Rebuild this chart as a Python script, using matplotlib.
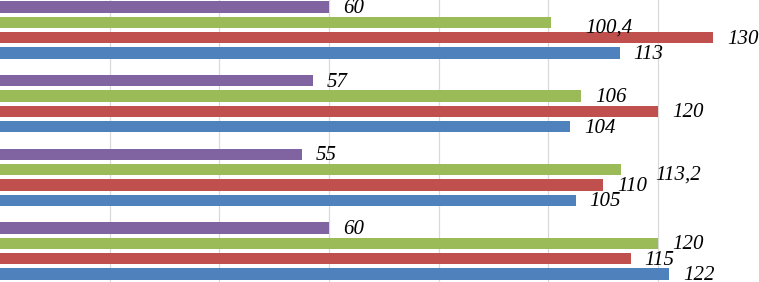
import numpy as np
import matplotlib.pyplot as plt

# groups from top to bottom
groups = ['Group 1', 'Group 2', 'Group 3', 'Group 4']
purple_vals = [60, 57, 55, 60]
green_vals = [100.4, 106, 113.2, 120]
red_vals = [130, 120, 110, 115]
blue_vals = [113, 104, 105, 122]

series = [
    (purple_vals, '#8064A2'),
    (green_vals, '#9BBB59'),
    (red_vals, '#C0504D'),
    (blue_vals, '#4F81BD'),
]

# label tweaks in points (dx, dy) for the few labels that were moved by hand
label_shift = {'100,4': (25, -3), '113,2': (25, -3)}


def fmt(v):
    return ('%g' % v).replace('.', ',')


def main():
    fig = plt.figure(figsize=(7.59, 2.82), dpi=100)
    ax = fig.add_axes([0, 0, 1, 1])

    n = len(groups)
    centers = np.arange(n)[::-1]
    pitch = 0.208
    height = 0.156
    shifts = [1.5, 0.5, -0.5, -1.5]

    for (vals, color), s in zip(series, shifts):
        ys = centers + s * pitch
        ax.barh(ys, vals, height=height, color=color, zorder=2)
        for y, v in zip(ys, vals):
            txt = fmt(v)
            dx, dy = label_shift.get(txt, (10, 0))
            ax.annotate(txt, (v, y), xytext=(dx, dy - 1), textcoords='offset points',
                        ha='left', va='center', fontsize=15, fontstyle='italic',
                        family='Liberation Serif', color='black', annotation_clip=False)

    ax.set_xlim(0, 138.4)
    ax.set_ylim(-0.421, 3.407)
    ax.set_xticks(np.arange(20, 140, 20))
    ax.grid(axis='x', color='#D9D9D9', linewidth=0.9)
    ax.set_axisbelow(True)
    ax.tick_params(length=0, labelbottom=False, labelleft=False)
    for sp in ax.spines.values():
        sp.set_visible(False)

    fig.savefig('out.png', dpi=100)
    plt.close(fig)


if __name__ == '__main__':
    main()
